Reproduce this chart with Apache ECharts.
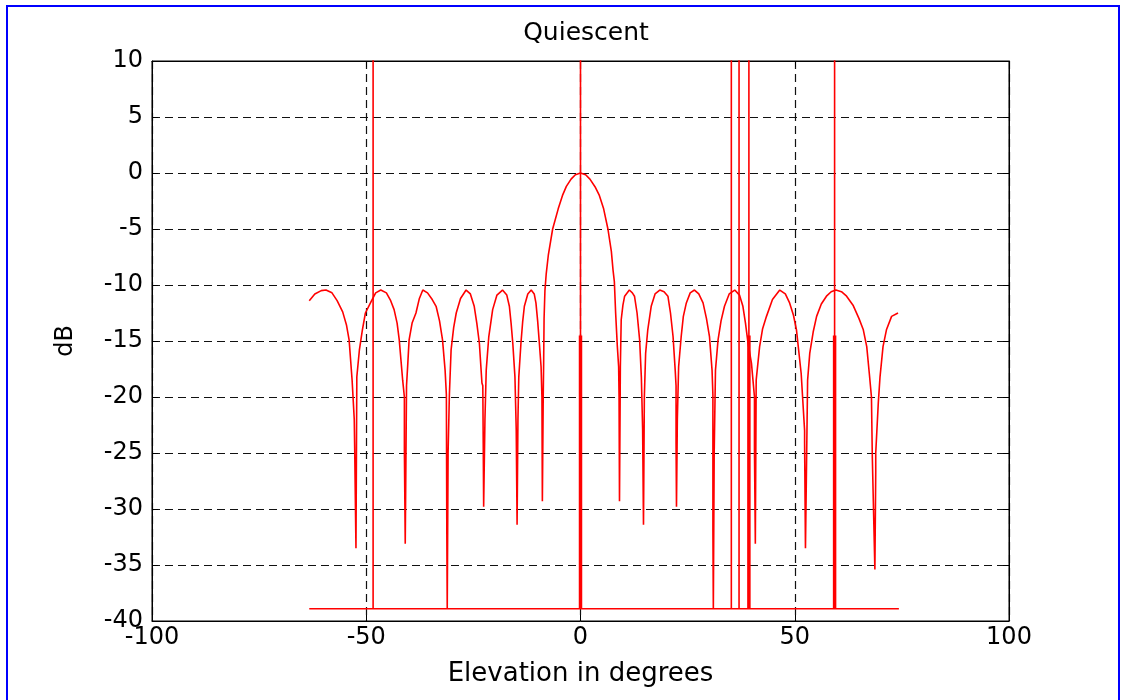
<!DOCTYPE html>
<html>
<head>
<meta charset="utf-8">
<script src="https://cdn.jsdelivr.net/npm/echarts@6/dist/echarts.min.js"></script>
<style>
html,body{margin:0;padding:0;background:#fff;}
#chart{width:1128px;height:700px;}
</style>
</head>
<body>
<div id="chart"></div>
<script>
// Beam pattern (elevation in degrees, gain in dB)
const elevation = [
-63.3,-62,-60.5,-59.4,-58,-56.8,-55.5,-54.6,-54,-53.3,-52.8,-52.7,-52.4,-52.2,-51.6,-50.9,-50.2,-48.9,-47.8,-46.6,
-45.3,-44.3,-43.5,-42.8,-42.3,-41.5,-41.1,-41.1,-40.9,-40.6,-40.3,-40,-39.3,-38.4,-37.6,-36.8,-35.7,-34.6,-33.7,-32.9,
-32.2,-31.6,-31.3,-31.2,-31.1,-30.9,-30.6,-30.2,-29.6,-29,-28,-26.7,-25.7,-24.8,-24.2,-23.6,-23,-22.8,-22.7,-22.6,
-22.3,-22,-21.4,-20.5,-19.5,-18.2,-17.2,-16.6,-16.2,-15.8,-15.3,-15,-15,-14.8,-14.6,-14.4,-13.9,-13.5,-13.1,-12.3,
-11.5,-10.8,-10.4,-10,-9.6,-9.2,-9,-8.9,-8.7,-8.6,-8.5,-8.3,-8,-7.5,-6.5,-5.2,-4.2,-3.3,-2.2,-1.2,
0,1.2,2.2,3.5,4.4,5.4,6.4,7.2,7.6,7.9,8.2,8.6,8.9,9,9.1,9.3,9.5,9.9,10.3,11.4,
12.1,12.6,13.2,13.8,14.2,14.5,14.5,14.7,14.9,15.2,15.7,16.5,17.4,18.5,19.5,20.4,21,21.6,22.1,22.3,
22.3,22.4,22.6,22.9,23.5,24,24.7,25.6,26.6,27.6,28.6,29.4,30.1,30.7,30.9,30.9,31,31.2,31.5,32.1,
32.8,33.6,34.7,36,37.1,37.9,38.5,39.1,39.9,40.6,40.6,40.8,41,41.8,42.5,43.4,44.8,46.5,47.8,48.8,
49.7,50.4,51.5,52.3,52.3,52.5,53,53.5,54.3,55.1,56.2,57.4,58.5,59.6,60.9,62.1,63.6,65,66,66.8,
67.4,67.9,68.1,68.7,68.9,68.9,69.5,69.9,70.6,71.4,72.6,74.1
];
const gainDb = [
-11.4,-10.8,-10.5,-10.45,-10.7,-11.4,-12.4,-13.6,-14.9,-18.5,-22,-24.5,-33.5,-18.2,-15.8,-14,-12.5,-11.5,-10.7,-10.45,
-10.7,-11.4,-12.2,-13.4,-14.9,-18.5,-20,-24.7,-33.1,-19,-17,-14.9,-13.4,-12.5,-11.2,-10.45,-10.7,-11.3,-11.9,-13.2,
-14.9,-17.6,-19.8,-31.9,-38.9,-25,-19.8,-15.8,-13.8,-12.5,-11.2,-10.45,-10.8,-11.9,-13.4,-15.2,-18.75,-19,-24.1,-29.8,
-22,-17.6,-14.6,-12.2,-10.9,-10.45,-10.9,-11.9,-13.4,-15.2,-18.2,-18.3,-22.9,-31.4,-22,-18.2,-15.2,-13.3,-11.9,-10.8,
-10.45,-10.8,-11.6,-13.2,-15.2,-17.3,-20,-29.3,-20,-17,-13,-10.5,-9,-7.3,-5,-3.2,-2,-1.2,-0.55,-0.15,
0,-0.15,-0.55,-1.3,-2,-3.2,-5,-7,-8.7,-9.7,-12.5,-15.5,-17.3,-20,-29.3,-17.3,-13.1,-11.8,-11,-10.45,
-10.7,-11,-12.5,-14.9,-18.2,-18.2,-22.9,-31.4,-20,-16.1,-14,-11.9,-10.8,-10.45,-10.6,-11,-12.5,-14.6,-17.6,-19,
-24.1,-29.8,-22,-17.3,-14.6,-12.8,-11.6,-10.7,-10.45,-10.8,-11.6,-13,-14.6,-17.6,-19.8,-31.9,-38.9,-25,-17.6,-14.9,
-13.2,-11.9,-10.8,-10.45,-10.9,-11.9,-13.4,-15.2,-17,-20,-24.7,-33.1,-18.5,-15.5,-13.9,-12.8,-11.3,-10.45,-10.8,-11.6,
-12.7,-14,-17.9,-23,-24.1,-33.5,-18.5,-16.1,-14.2,-12.8,-11.7,-11,-10.6,-10.45,-10.6,-11,-11.8,-13,-14,-15.5,
-17.9,-20,-25.3,-35.4,-26.7,-25,-20.5,-18.2,-15.5,-14,-12.8,-12.5
];
// Jammer markers (angles in degrees)
const jammerAngles = [-48.4, 0, 35.2, 37.0, 39.3, 59.3];
const floorLevel = -38.9;
const jammerTop = 30;
const floorStart = -63.3, floorEnd = 74.3;
const shortSpikeAngles = [0, 39.3, 59.3];
const shortSpikeTop = -14.5;
// Axes
const xTicks = [-100, -50, 0, 50, 100];
const yTicks = [-40, -35, -30, -25, -20, -15, -10, -5, 0, 5, 10];
const titleText = 'Quiescent';
const xName = 'Elevation in degrees';
const yName = 'dB';

const patternData = elevation.map((x, i) => [x, gainDb[i]]);
const jammerData = [[floorStart, floorLevel]];
jammerAngles.forEach(a => { jammerData.push([a, floorLevel], [a, jammerTop], [a, floorLevel]); });
jammerData.push([floorEnd, floorLevel]);
const shortData = [];
shortSpikeAngles.forEach((a, i) => {
  if (i) shortData.push('-');
  shortData.push([a, floorLevel], [a, shortSpikeTop]);
});

const FONT = '"DejaVu Sans", "Liberation Sans", Arial, sans-serif';
const chart = echarts.init(document.getElementById('chart'), null, {renderer: 'canvas'});
const axisCommon = {
  type: 'value',
  axisLine: {show: true, onZero: false, lineStyle: {color: '#000', width: 1}},
  axisTick: {show: true, inside: true, length: 6, lineStyle: {color: '#000'}},
};
const gridLine = {show: true, lineStyle: {color: '#111', type: [8, 5], width: 1.2}};
chart.setOption({
  animation: false,
  backgroundColor: '#fff',
  title: {
    text: titleText, left: 581, top: 16, textAlign: 'center',
    textStyle: {fontFamily: FONT, fontSize: 25, fontWeight: 'normal', color: '#000'}
  },
  grid: {left: 152, right: 119, top: 61, bottom: 79, show: true, borderColor: '#000', borderWidth: 1, backgroundColor: '#fff'},
  xAxis: [
    Object.assign({}, axisCommon, {
      position: 'bottom', min: xTicks[0], max: xTicks[xTicks.length - 1], interval: 50,
      axisLabel: {color: '#000', fontFamily: FONT, fontSize: 24, margin: 5},
      splitLine: gridLine,
      name: xName, nameLocation: 'middle', nameGap: 40,
      nameTextStyle: {color: '#000', fontFamily: FONT, fontSize: 26}
    }),
    Object.assign({}, axisCommon, {
      position: 'top', min: xTicks[0], max: xTicks[xTicks.length - 1], interval: 50,
      axisLabel: {show: false}, splitLine: {show: false}
    })
  ],
  yAxis: [
    Object.assign({}, axisCommon, {
      position: 'left', min: yTicks[0], max: yTicks[yTicks.length - 1], interval: 5,
      axisLabel: {color: '#000', fontFamily: FONT, fontSize: 24, margin: 9},
      splitLine: gridLine,
      name: yName, nameLocation: 'middle', nameGap: 74, nameRotate: 90,
      nameTextStyle: {color: '#000', fontFamily: FONT, fontSize: 24}
    }),
    Object.assign({}, axisCommon, {
      position: 'right', min: yTicks[0], max: yTicks[yTicks.length - 1], interval: 5,
      axisLabel: {show: false}, splitLine: {show: false}
    })
  ],
  series: [
    {
      type: 'line', name: 'pattern', data: patternData, showSymbol: false, symbol: 'none',
      lineStyle: {color: '#ff0000', width: 1.6}, clip: true, z: 3
    },
    {
      type: 'line', name: 'jammers', data: jammerData, showSymbol: false, symbol: 'none',
      lineStyle: {color: '#ff0000', width: 1.6}, clip: true, z: 3
    },
    {
      type: 'line', name: 'jammerLevel', data: shortData, showSymbol: false, symbol: 'none',
      connectNulls: false, lineStyle: {color: '#ff0000', width: 3.5}, clip: true, z: 3
    }
  ],
  graphic: [{
    type: 'rect', shape: {x: 7, y: 6, width: 1112, height: 720},
    style: {fill: 'none', stroke: '#0000ff', lineWidth: 2}, silent: true, z: 100
  }]
});
</script>
</body>
</html>
